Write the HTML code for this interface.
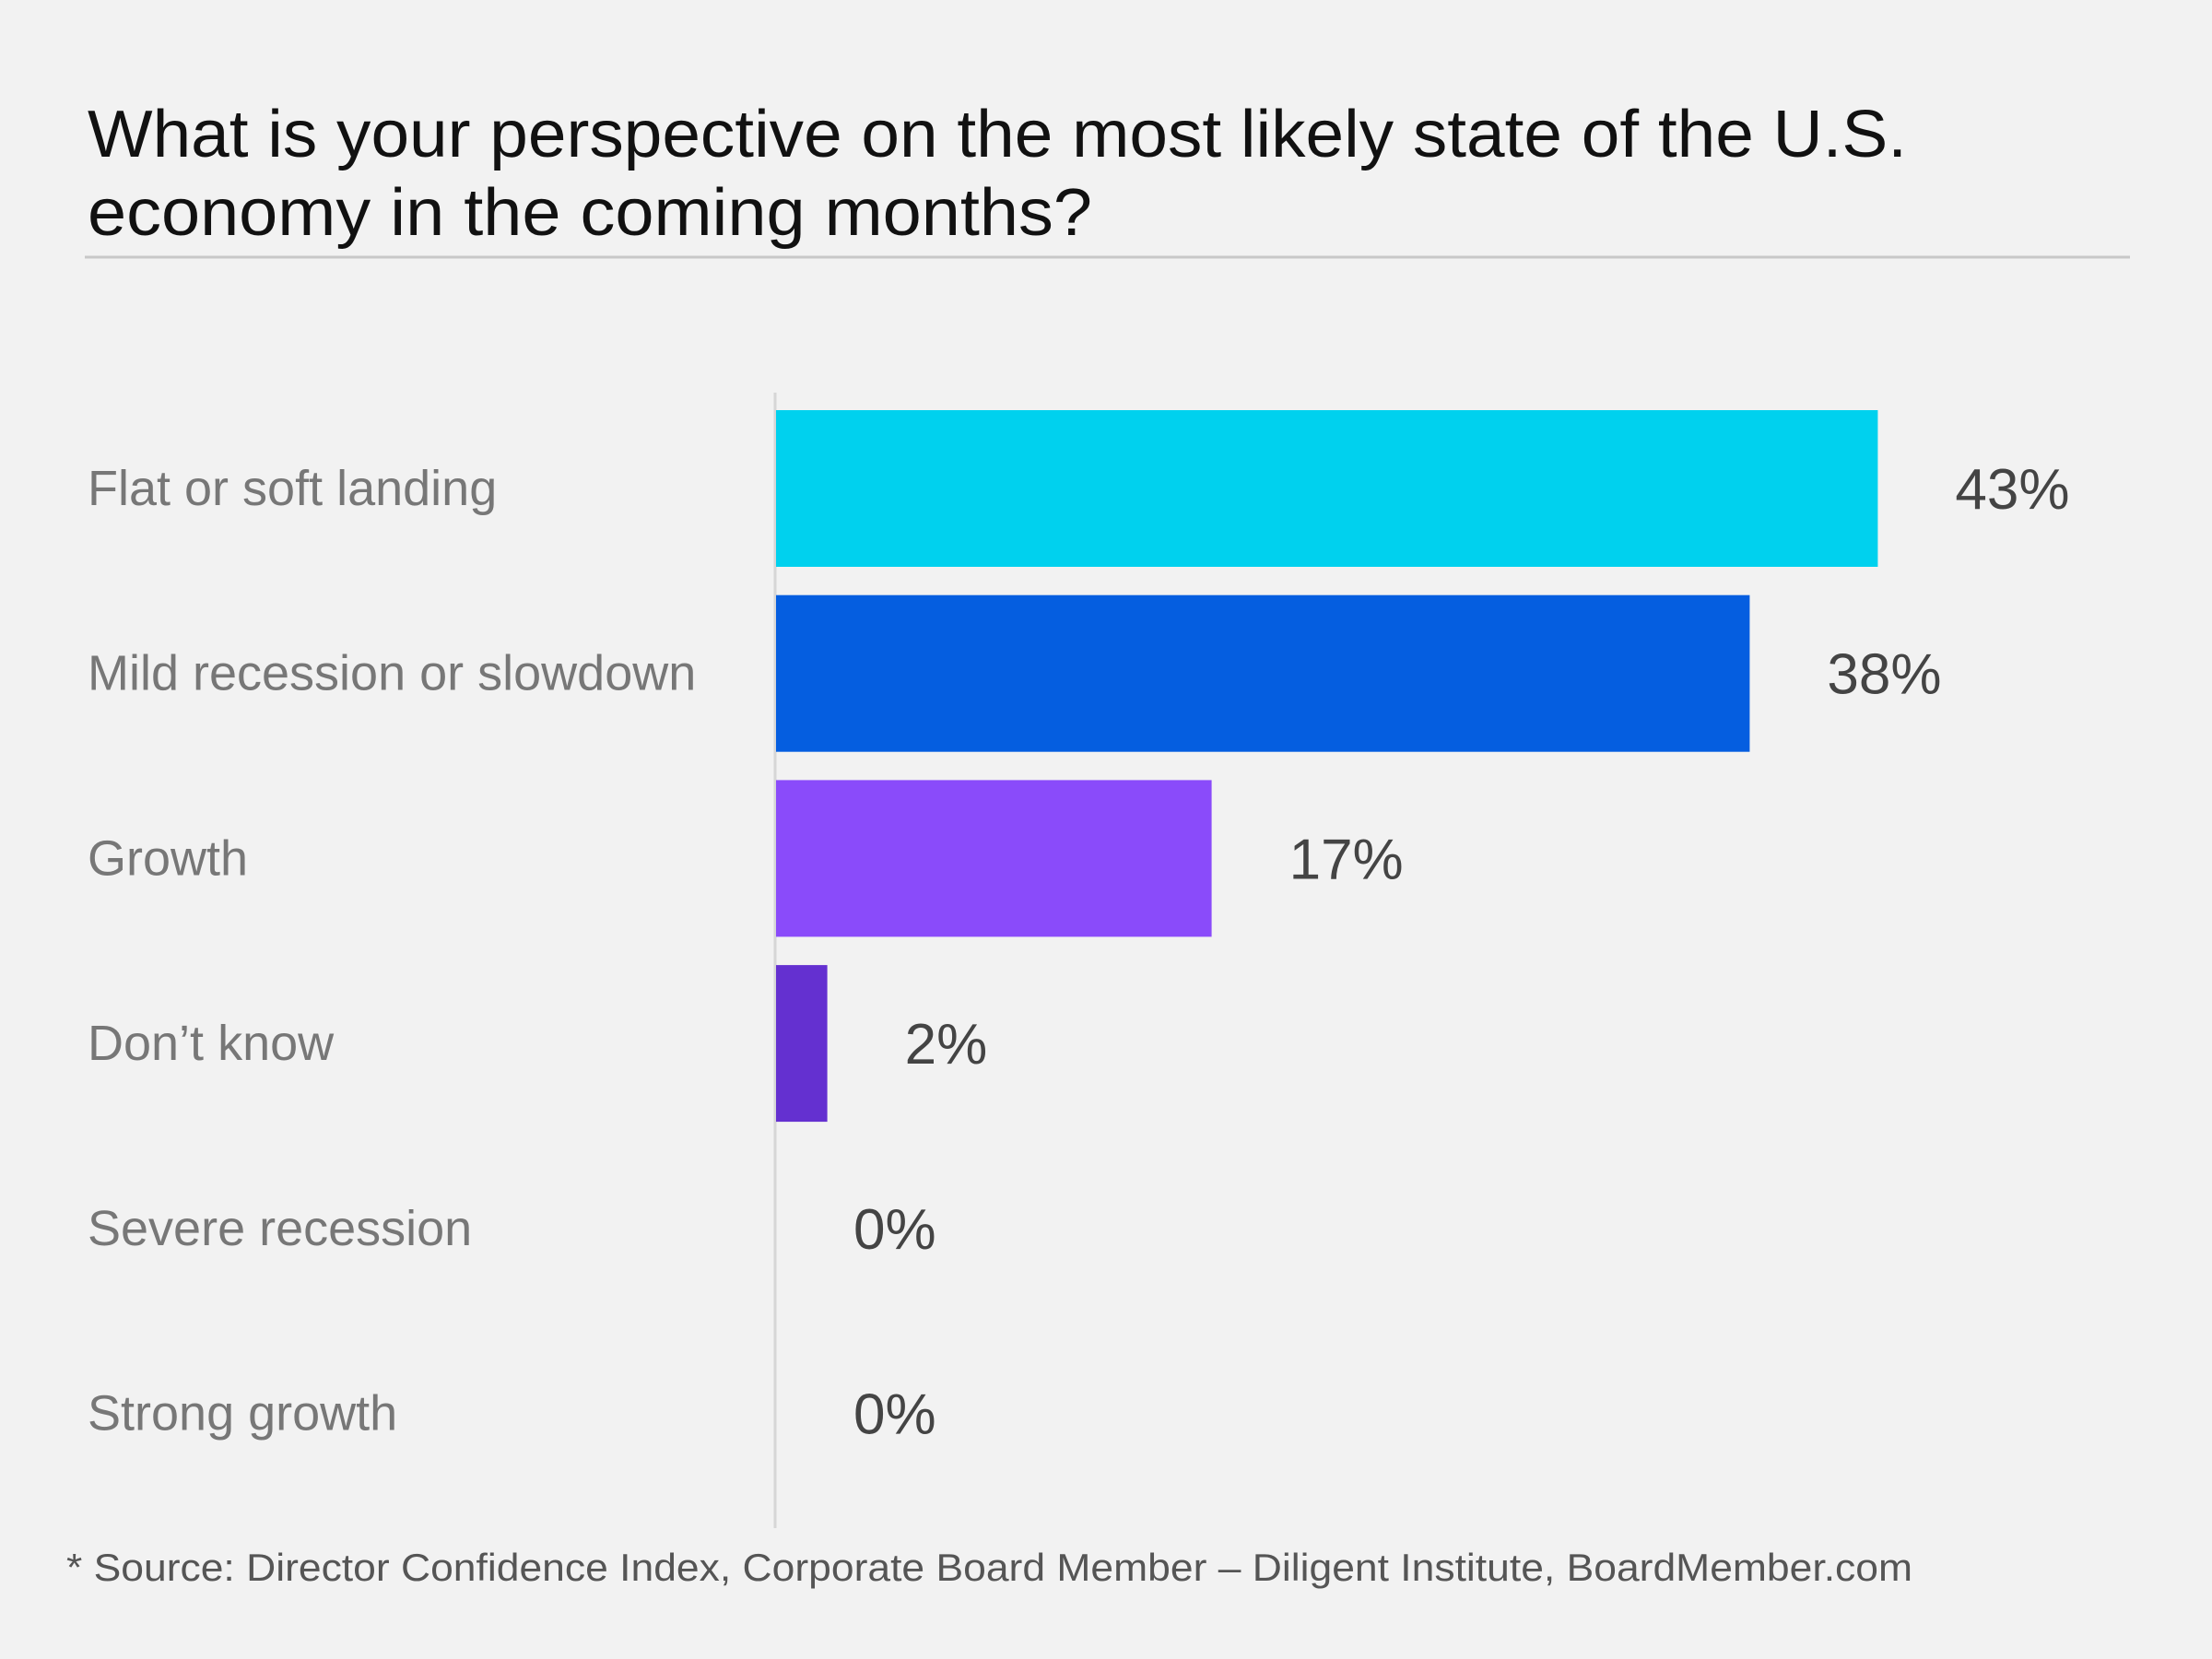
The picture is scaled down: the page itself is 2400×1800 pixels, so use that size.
<!DOCTYPE html>
<html><head><meta charset="utf-8"><style>
html,body{margin:0;padding:0;background:#f2f2f2;}
svg{display:block;font-family:"Liberation Sans",sans-serif;}
</style></head><body>
<svg id="chart" width="2400" height="1800" viewBox="0 0 2400 1800" xmlns="http://www.w3.org/2000/svg">
<rect width="2400" height="1800" fill="#f2f2f2"/>
<text x="95" y="170" font-size="72" fill="#111" textLength="1974" lengthAdjust="spacingAndGlyphs">What is your perspective on the most likely state of the U.S.</text>
<text x="95" y="255" font-size="72" fill="#111" textLength="1090" lengthAdjust="spacingAndGlyphs">economy in the coming months?</text>
<line x1="92" y1="279" x2="2311" y2="279" stroke="#c8c8c8" stroke-width="3"/>
<line x1="841" y1="426" x2="841" y2="1658" stroke="#d6d6d6" stroke-width="3"/>
<g id="bars"></g>
<text x="72" y="1715" font-size="42" fill="#555" textLength="2003" lengthAdjust="spacingAndGlyphs">* Source: Director Confidence Index, Corporate Board Member – Diligent Institute, BoardMember.com</text>
</svg>
<script>
const categories = ["Flat or soft landing","Mild recession or slowdown","Growth","Don’t know","Severe recession","Strong growth"];
const values = [43, 38, 17, 2, 0, 0];
const valueLabels = ["43%","38%","17%","2%","0%","0%"];
const colors = ["#00d1ee","#055ee0","#8a4bfa","#6430d0","#8a4bfa","#00d1ee"];

const NS = "http://www.w3.org/2000/svg";
const x0 = 842, pxPerUnit = 27.8;
const rowTop = 445, rowPitch = 200.7, barH = 170;
const xScale = v => x0 + v * pxPerUnit;
const yScale = i => rowTop + i * rowPitch;
const g = document.getElementById("bars");
categories.forEach((c, i) => {
  const y = yScale(i), cy = y + barH / 2;
  const lab = document.createElementNS(NS, "text");
  lab.setAttribute("x", 95); lab.setAttribute("y", cy + 18);
  lab.setAttribute("font-size", "54"); lab.setAttribute("fill", "#777");
  lab.textContent = c;
  
  
  g.appendChild(lab);
  if (values[i] > 0) {
    const r = document.createElementNS(NS, "rect");
    r.setAttribute("x", x0); r.setAttribute("y", y);
    r.setAttribute("width", xScale(values[i]) - x0); r.setAttribute("height", barH);
    r.setAttribute("fill", colors[i]);
    
    
    g.appendChild(r);
  }
  const v = document.createElementNS(NS, "text");
  v.setAttribute("x", xScale(values[i]) + 84); v.setAttribute("y", cy + 22);
  v.setAttribute("font-size", "62"); v.setAttribute("fill", "#444");
  v.textContent = valueLabels[i];
  
  
  g.appendChild(v);
});
</script>
</body></html>
